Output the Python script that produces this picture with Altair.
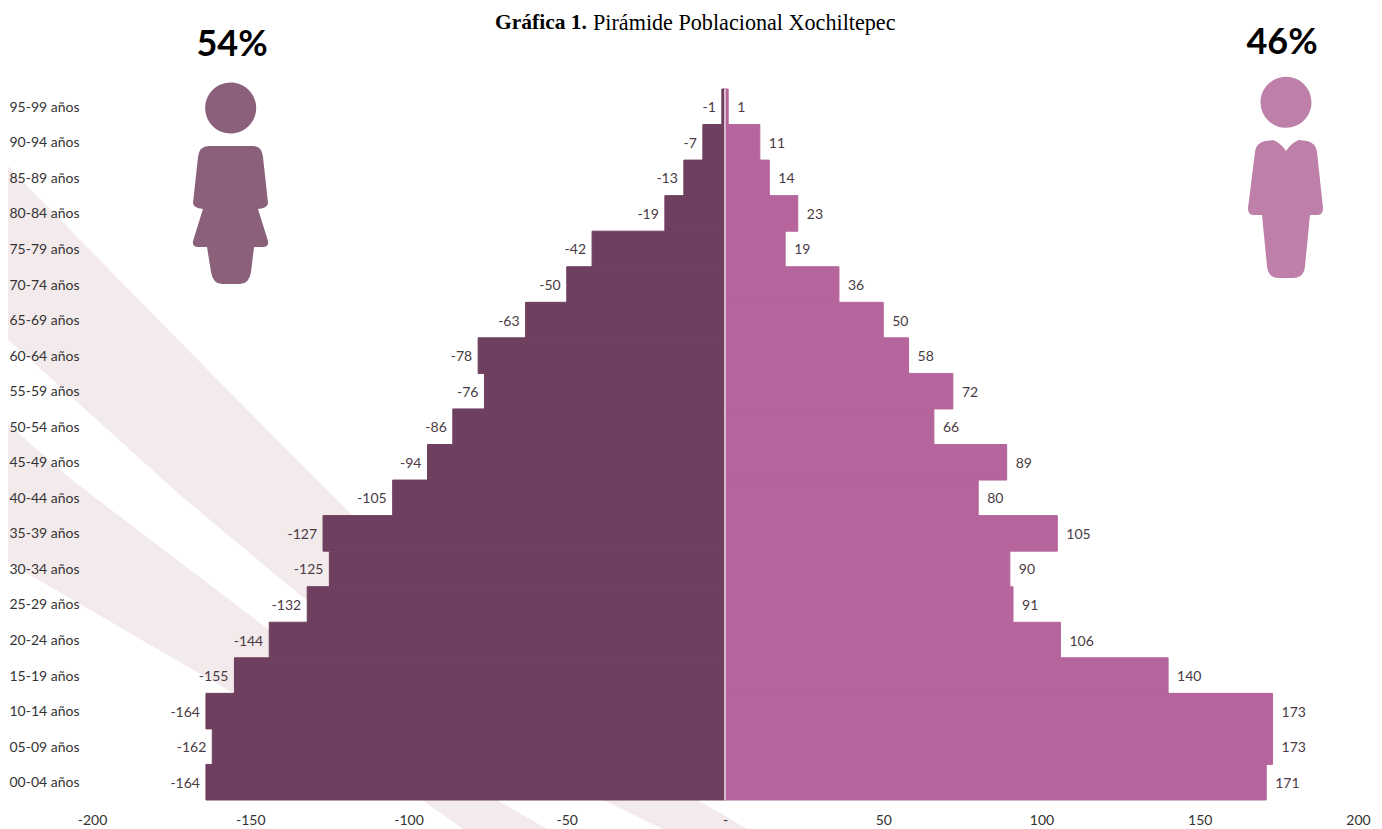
import altair as alt
import pandas as pd

ages = ["95-99 años","90-94 años","85-89 años","80-84 años","75-79 años","70-74 años","65-69 años",
        "60-64 años","55-59 años","50-54 años","45-49 años","40-44 años","35-39 años","30-34 años",
        "25-29 años","20-24 años","15-19 años","10-14 años","05-09 años","00-04 años"]
hombres = [-1,-7,-13,-19,-42,-50,-63,-78,-76,-86,-94,-105,-127,-125,-132,-144,-155,-164,-162,-164]
mujeres = [1,11,14,23,19,36,50,58,72,66,89,80,105,90,91,106,140,173,173,171]
x_ticks = [-200,-150,-100,-50,0,50,100,150,200]

C_DARK = "#6F3F5F"
C_PINK = "#B5659C"
C_FIG1 = "#8A607A"
C_FIG2 = "#BE7FA9"
C_BAND = "#F3EAEC"
C_LABEL = "#4A3A45"
FONT = "Lato"
FS = 14

# decorative shapes, in page pixels
BAND_PATH = ("M-8,150 L139,300 L280,443 L352,515 L698,800 L747,829 L747,840 L663,840 L663,829 L603,800 "
             "L300,595 L180,495 L-8,325 Z "
             "M-8,410 L72,480 L260,623 L497,800 L547,829 L547,840 L463,840 L463,829 L422,800 L233,693 L-8,553 Z")
FIG1_PATH = ("M205.2,108 A25.5,25.5 0 1 1 256.2,108 A25.5,25.5 0 1 1 205.2,108 Z "
             "M209,146 L253,146 Q262,146 263,157 L268,203 Q268,208 258,209 L268,241 Q269,247 263,247 L254,247 "
             "L251,272 Q249,284 240,284 L222,284 Q213,284 211,272 L207,247 L198,247 Q192,247 193,241 L203,209 "
             "Q193,208 193,203 L198,157 Q199,146 209,146 Z")
FIG2_PATH = ("M1260.5,102.3 A25.5,25.5 0 1 1 1311.5,102.3 A25.5,25.5 0 1 1 1260.5,102.3 Z "
             "M1286,151 Q1281,143 1273,140 L1265,141 Q1256,143 1255,152 L1248,208 Q1248,215 1253,215 L1262,215 "
             "L1267,266 Q1268,278 1279,278 L1293,278 Q1304,278 1305,266 L1310,215 L1318,215 Q1323,215 1323,208 "
             "L1317,152 Q1316,143 1307,141 L1299,140 Q1291,143 1286,151 Z")

df = pd.DataFrame({"edad": ages, "hombres": hombres, "mujeres": mujeres,
                   "et_h": [str(v) for v in hombres], "et_m": [str(v) for v in mujeres]})
x_scale = alt.Scale(domain=[-200, 200], range=[84, 1350])
y_scale = alt.Scale(domain=ages, range=[81, 792], paddingInner=0, paddingOuter=0)

def deco(path, color):
    return alt.Chart(pd.DataFrame({"a": [0]})).mark_point(
        shape=path, size=4, filled=True, fill=color, opacity=1, strokeWidth=0
    ).encode(x=alt.value(-8), y=alt.value(-8))

def note(text, x, y, size, weight="normal", font=FONT, align="left", color="#000000"):
    return alt.Chart(pd.DataFrame({"t": [text]})).mark_text(
        align=align, baseline="middle", font=font, fontSize=size, fontWeight=weight, color=color
    ).encode(x=alt.value(x - 8), y=alt.value(y - 8), text="t:N")

base = alt.Chart(df)
bars_h = base.mark_bar(color=C_DARK, stroke=C_DARK, strokeWidth=1, opacity=1).encode(
    x=alt.X("hombres:Q", scale=x_scale,
            axis=alt.Axis(values=x_ticks, title=None, grid=False, domain=False, ticks=False, zindex=1,
                          labelFlush=False, labelOverlap=False,
                          labelFont=FONT, labelFontSize=FS, labelColor="#333333", labelPadding=13,
                          labelExpr="datum.value == 0 ? '-' : datum.value")),
    y=alt.Y("edad:N", scale=y_scale, sort=ages,
            axis=alt.Axis(title=None, domain=False, ticks=False, grid=False, zindex=1, labelAlign="left",
                          labelPadding=-1, labelOffset=1, labelFont=FONT, labelFontSize=FS,
                          labelColor="#333333")),
)
bars_m = base.mark_bar(color=C_PINK, stroke=C_PINK, strokeWidth=1, opacity=1).encode(
    x=alt.X("mujeres:Q", scale=x_scale),
    y=alt.Y("edad:N", scale=y_scale, sort=ages),
)
center = base.mark_rule(color="#D9BCD0", strokeWidth=0.8).encode(
    x=alt.datum(0, scale=x_scale),
    y=alt.value(81), y2=alt.value(792),
)
labels_h = base.mark_text(align="right", baseline="middle", dx=-6, dy=1.5, font=FONT, fontSize=FS, color=C_LABEL).encode(
    x=alt.X("hombres:Q", scale=x_scale),
    y=alt.Y("edad:N", scale=y_scale, sort=ages),
    text="et_h:N",
)
labels_m = base.mark_text(align="left", baseline="middle", dx=9, dy=1.5, font=FONT, fontSize=FS, color=C_LABEL).encode(
    x=alt.X("mujeres:Q", scale=x_scale),
    y=alt.Y("edad:N", scale=y_scale, sort=ages),
    text="et_m:N",
)

chart = alt.layer(
    deco(BAND_PATH, C_BAND),
    bars_h, bars_m, center, labels_h, labels_m,
    deco(FIG1_PATH, C_FIG1),
    deco(FIG2_PATH, C_FIG2),
    note("54%", 232, 44.5, 36, "bold", align="center"),
    note("46%", 1282, 42.5, 36, "bold", align="center"),
    note("Gráfica 1.", 495, 23, 21.5, "bold", "Liberation Serif"),
    note("Pirámide Poblacional Xochiltepec", 593, 23, 22.15, "normal", "Liberation Serif"),
).properties(
    width=1366, height=792,
    autosize=alt.AutoSizeParams(type="none"),
    padding={"left": 0, "top": 0, "right": 0, "bottom": 29},
    background="white",
).configure_view(stroke=None)

chart.save("out.html", embed_options={"renderer": "svg", "actions": False})
